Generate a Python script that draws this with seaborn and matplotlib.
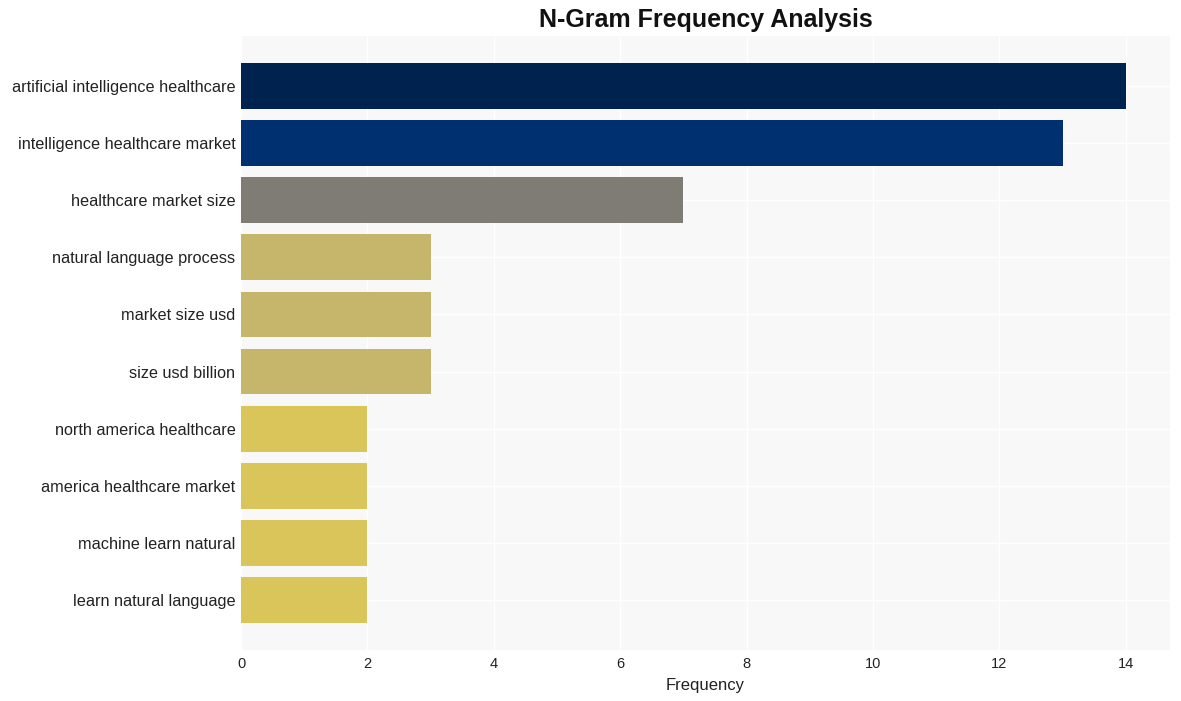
import matplotlib
matplotlib.use("Agg")
import matplotlib.pyplot as plt
import seaborn as sns
import pandas as pd

ngrams = ["artificial intelligence healthcare", "intelligence healthcare market",
          "healthcare market size", "natural language process", "market size usd",
          "size usd billion", "north america healthcare", "america healthcare market",
          "machine learn natural", "learn natural language"]
counts = [14, 13, 7, 3, 3, 3, 2, 2, 2, 2]
bar_colors = ["#00224e", "#00306f", "#7f7c75", "#c5b66b", "#c5b66b", "#c5b66b",
              "#dac55b", "#dac55b", "#dac55b", "#dac55b"]

df = pd.DataFrame({"ngram": ngrams, "count": counts})

sns.set_theme(style="whitegrid")
plt.rcParams["font.family"] = ["Liberation Sans", "DejaVu Sans"]

fig = plt.figure(figsize=(11.81, 7.01), dpi=100)
ax = fig.add_axes([241/1181, 1-650/701, (1170-241)/1181, (650-36)/701])
ax.set_facecolor("#f8f8f8")
sns.barplot(data=df, x="count", y="ngram", hue="ngram", palette=bar_colors,
            legend=False, width=0.8, ax=ax, saturation=1, linewidth=0)
ax.grid(True, color="white", linewidth=1)
ax.set_axisbelow(True)
for s in ax.spines.values():
    s.set_visible(False)
ax.set_xlim(0, 14.7)
ax.set_ylim(9.87, -0.87)
ax.set_xticks([0, 2, 4, 6, 8, 10, 12, 14])
ax.tick_params(axis="x", labelsize=10.5, colors="#222222", pad=5, length=0)
ax.tick_params(axis="y", labelsize=11.7, colors="#222222", pad=4, length=0)
ax.set_xlabel("Frequency", fontsize=12, color="#222222", labelpad=5)
ax.set_ylabel("")
fig.text(706/1181, 1-20/701, "N-Gram Frequency Analysis", ha="center", va="center",
         fontsize=18, fontweight="bold", color="#111111")
fig.savefig("out.png", dpi=100)
